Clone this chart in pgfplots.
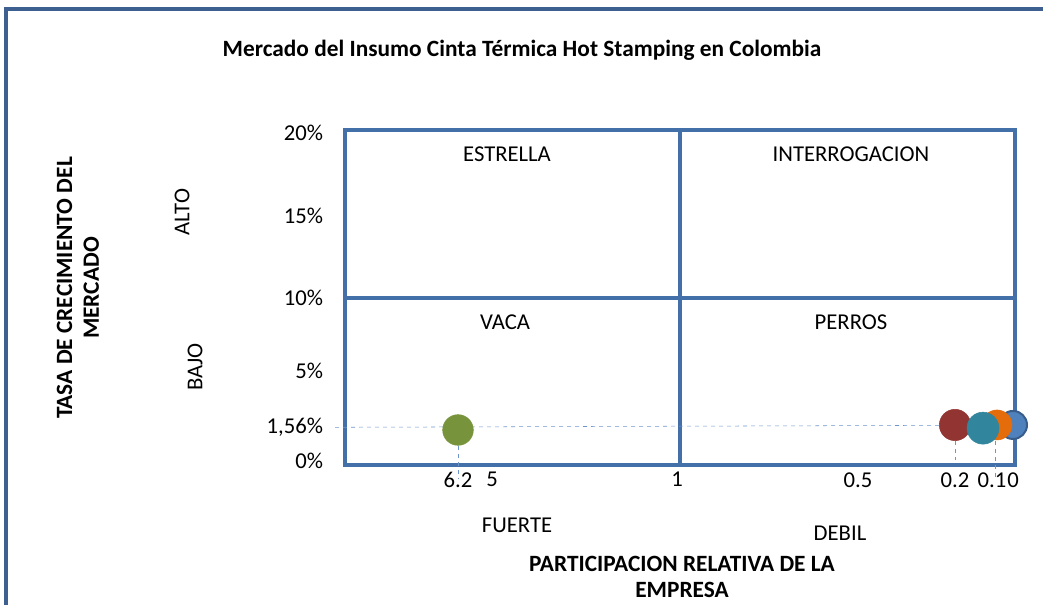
\documentclass[border=0pt]{standalone}
\usepackage{pgfplots}
\pgfplotsset{compat=1.18}
\usepackage{fontspec}
\setmainfont{Carlito}
\definecolor{framecol}{RGB}{62,96,145}
\definecolor{boxblue}{RGB}{68,112,170}
\definecolor{dashblue}{RGB}{110,150,205}
\definecolor{bgreen}{RGB}{119,147,60}
\definecolor{bred}{RGB}{146,52,50}
\definecolor{bteal}{RGB}{49,133,156}
\definecolor{borange}{RGB}{228,108,10}
\definecolor{bblue}{RGB}{79,129,189}
\definecolor{bblueline}{RGB}{56,93,138}
\newcommand{\txt}{\fontsize{17}{20}\selectfont}
\newcommand{\btxt}{\fontsize{17.5}{20}\selectfont\bfseries}

\begin{document}
\begin{tikzpicture}[x=0.75pt,y=-0.75pt]
\useasboundingbox (0,0) rectangle (1043,605);
\draw[framecol, line width=2.6pt] (6,606) -- (6,9) -- (1044,9);

\begin{axis}[
  at={(258.75pt,-348.75pt)}, anchor=south west,
  scale only axis, width=502.5pt, height=251.25pt,
  % x runs in drawn position; labels give relative share
  xmin=345, xmax=1015, ymin=0, ymax=20,
  axis line style={boxblue, line width=2.6pt},
  xtick={458,492,677,858,955,992,1013},
  xticklabels={6.2,5,1,0.5,0.2,0.1,0},
  ytick={0.24,2.27,5.61,9.97,14.87,19.82},
  yticklabels={0\%,{1,56\%},5\%,10\%,15\%,20\%},
  major tick length=0pt,
  tick label style={font=\txt, text=black},
  yticklabel style={xshift=-13pt},
  xticklabel style={yshift=-2pt},
  clip=false,
]
  % quadrant dividers
  \addplot[boxblue, line width=2.4pt] coordinates {(680,0) (680,20)};
  \addplot[boxblue, line width=2.4pt] coordinates {(345,9.97) (1015,9.97)};
  % guide lines
  \addplot[dashblue, dashed, thin] coordinates {(335,2.25) (1013,2.38)};
  \addplot[dashblue, dashed, thin] coordinates {(458,2.1) (458,-0.8)};
  \addplot[dashblue, dashed, thin] coordinates {(955,2.39) (955,0.3)};
  \addplot[dashblue, dashed, thin] coordinates {(995,2.39) (995,-0.9)};
  % bubbles
  \addplot[only marks, mark=*, mark size=10.5pt, mark options={fill=bblue, draw=bblueline, line width=1.5pt}] coordinates {(1013,2.39)};
  \addplot[only marks, mark=*, mark size=11.25pt, mark options={fill=borange, draw=borange}] coordinates {(997,2.39)};
  \addplot[only marks, mark=*, mark size=11.75pt, mark options={fill=bred, draw=bred}] coordinates {(955,2.39)};
  \addplot[only marks, mark=*, mark size=12pt, mark options={fill=bteal, draw=bteal}] coordinates {(983,2.2)};
  \addplot[only marks, mark=*, mark size=11.5pt, mark options={fill=bgreen, draw=bgreen}] coordinates {(458,2.09)};
\end{axis}

\node[font=\btxt] at (522,50) {Mercado del Insumo Cinta Térmica Hot Stamping en Colombia};
\node[font=\btxt, rotate=90, align=center] at (78,288) {TASA DE CRECIMIENTO DEL\\MERCADO};
\node[font=\txt, rotate=90] at (182,212) {ALTO};
\node[font=\txt, rotate=90] at (195,367) {BAJO};
\node[font=\txt] at (507,154) {ESTRELLA};
\node[font=\txt] at (851,154) {INTERROGACION};
\node[font=\txt] at (505,322) {VACA};
\node[font=\txt] at (851,322) {PERROS};
\node[font=\txt] at (517,525) {FUERTE};
\node[font=\txt] at (840,533) {DEBIL};
\node[font=\btxt, align=center] at (682,577) {PARTICIPACION RELATIVA DE LA\\EMPRESA};
\end{tikzpicture}
\end{document}
